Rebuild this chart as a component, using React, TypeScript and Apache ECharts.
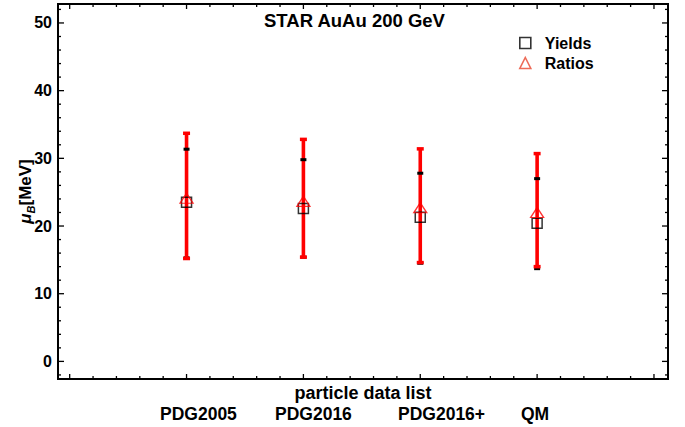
import React, { useEffect, useRef } from "react";
import * as echarts from "echarts";

// ---- data ----
const categories = ["PDG2005", "PDG2016", "PDG2016+", "QM"];
const categoryX = [1, 2, 3, 4];
const categoryLabelLeft = [160, 275, 398, 521];

const yieldsMu = [23.5, 22.6, 21.3, 20.4];
const yieldsLow = [15.3, 15.4, 14.5, 13.7];
const yieldsHigh = [31.35, 29.8, 27.8, 27.0];

const ratiosMu = [24.1, 23.65, 22.7, 22.0];
const ratiosLow = [15.2, 15.4, 14.6, 14.0];
const ratiosHigh = [33.7, 32.8, 31.4, 30.7];

const yTickLabels = [0, 10, 20, 30, 40, 50];
const yMinorTicks = [-2, 2, 4, 6, 8, 12, 14, 16, 18, 22, 24, 26, 28, 32, 34, 36, 38, 42, 44, 46, 48, 52];
const xMajorTicks = [0, 1, 2, 3, 4, 5];
const xMinorTicks = [
  0.2, 0.4, 0.6, 0.8, 1.2, 1.4, 1.6, 1.8, 2.2, 2.4, 2.6, 2.8, 3.2, 3.4, 3.6, 3.8, 4.2, 4.4, 4.6, 4.8,
];

const X_MIN = -0.1;
const X_MAX = 5.12;
const Y_MIN = -2.6;
const Y_MAX = 52.8;

const FONT = "'Liberation Sans', Arial, sans-serif";

export default function App() {
  const ref = useRef<HTMLDivElement>(null);

  useEffect(() => {
    if (!ref.current) return;
    const chart = echarts.init(ref.current, null, { renderer: "svg" });

    const ticksRender = (params: any, api: any) => {
      const cs = params.coordSys;
      const x0 = cs.x, x1 = cs.x + cs.width, y0 = cs.y, y1 = cs.y + cs.height;
      const children: any[] = [];
      const st = { stroke: "#000", lineWidth: 1.3 };
      const addY = (v: number, len: number) => {
        const py = api.coord([X_MIN, v])[1];
        children.push({ type: "line", shape: { x1: x0, y1: py, x2: x0 + len, y2: py }, style: st });
        children.push({ type: "line", shape: { x1: x1 - len, y1: py, x2: x1, y2: py }, style: st });
      };
      const addX = (v: number, len: number) => {
        const px = api.coord([v, Y_MIN])[0];
        children.push({ type: "line", shape: { x1: px, y1: y1, x2: px, y2: y1 - len }, style: st });
        children.push({ type: "line", shape: { x1: px, y1: y0, x2: px, y2: y0 + len }, style: st });
      };
      yTickLabels.forEach((v) => addY(v, 6));
      yMinorTicks.forEach((v) => addY(v, 3));
      xMajorTicks.forEach((v) => addX(v, 5));
      xMinorTicks.forEach((v) => addX(v, 3));
      return { type: "group", children };
    };

    const makeBar = (color: string, lw: number, capW: number, capLw: number, withLine: boolean, capTop: boolean, capBottom: boolean) =>
      (params: any, api: any) => {
        const x = api.value(0);
        const lo = api.coord([x, api.value(1)]);
        const hi = api.coord([x, api.value(2)]);
        const children: any[] = [];
        if (withLine) {
          children.push({ type: "line", shape: { x1: lo[0], y1: lo[1], x2: hi[0], y2: hi[1] }, style: { stroke: color, lineWidth: lw } });
        }
        if (capTop) {
          children.push({ type: "line", shape: { x1: hi[0] - capW / 2, y1: hi[1], x2: hi[0] + capW / 2, y2: hi[1] }, style: { stroke: color, lineWidth: capLw } });
        }
        if (capBottom) {
          children.push({ type: "line", shape: { x1: lo[0] - capW / 2, y1: lo[1], x2: lo[0] + capW / 2, y2: lo[1] }, style: { stroke: color, lineWidth: capLw } });
        }
        return { type: "group", children };
      };

    const yieldBarData = categoryX.map((x, i) => [x, yieldsLow[i], yieldsHigh[i]]);
    const ratioBarData = categoryX.map((x, i) => [x, ratiosLow[i], ratiosHigh[i]]);

    chart.setOption({
      animation: false,
      textStyle: { fontFamily: FONT },
      title: {
        text: "STAR AuAu 200 GeV",
        left: 259,
        top: 6,
        textStyle: { fontFamily: FONT, fontWeight: "bold", fontSize: 18.5, color: "#000" },
      },
      legend: {
        orient: "vertical",
        left: 514,
        top: 30,
        itemWidth: 11,
        itemHeight: 11,
        itemGap: 4,
        textStyle: { fontFamily: FONT, fontWeight: "bold", fontSize: 16, color: "#000", padding: [0, 0, 0, 9], lineHeight: 16 },
        data: [
          { name: "Yields", icon: "rect", itemStyle: { color: "rgba(0,0,0,0)", borderColor: "#000", borderWidth: 1.6 } },
          { name: "Ratios", icon: "triangle", itemStyle: { color: "rgba(0,0,0,0)", borderColor: "#e8462e", borderWidth: 1.6 } },
        ],
      },
      grid: {
        left: 58, right: 17, top: 4, bottom: 48,
        containLabel: false,
        outerBoundsMode: "none",
        show: true, borderColor: "#000", borderWidth: 2, backgroundColor: "transparent",
      },
      xAxis: {
        type: "value",
        min: X_MIN,
        max: X_MAX,
        axisLine: { show: false },
        axisTick: { show: false },
        axisLabel: { show: false },
        splitLine: { show: false },
        name: "particle data list",
        nameLocation: "middle",
        nameGap: 5,
        nameMoveOverlap: false,
        nameTextStyle: { fontFamily: FONT, fontWeight: "bold", fontSize: 18, color: "#000" },
      },
      yAxis: {
        type: "value",
        min: Y_MIN,
        max: Y_MAX,
        axisLine: { show: false },
        axisTick: { show: false },
        splitLine: { show: false },
        axisLabel: {
          customValues: yTickLabels,
          fontFamily: FONT,
          fontWeight: "bold",
          fontSize: 16,
          color: "#000",
          margin: 6,
        },
        name: "{mu|μ}{sub|B}{n|[MeV]}",
        nameLocation: "middle",
        nameGap: 22,
        nameMoveOverlap: false,
        nameRotate: 90,
        nameTextStyle: {
          color: "#000",
          rich: {
            mu: { fontFamily: FONT, fontWeight: "bold", fontStyle: "italic", fontSize: 17, color: "#000", lineHeight: 22, verticalAlign: "middle" },
            sub: { fontFamily: FONT, fontWeight: "bold", fontStyle: "italic", fontSize: 11, color: "#000", lineHeight: 22, verticalAlign: "bottom", padding: [8, 0, 0, 0] },
            n: { fontFamily: FONT, fontWeight: "bold", fontSize: 17, color: "#000", lineHeight: 22, verticalAlign: "middle" },
          },
        },
      },
      graphic: categories.map((c, i) => ({
        type: "text",
        left: categoryLabelLeft[i],
        top: 405,
        style: { text: c, fontFamily: FONT, fontWeight: "bold", fontSize: 17.5, fill: "#000" },
      })),
      series: [
        {
          type: "custom",
          name: "ticks",
          silent: true,
          z: 1,
          data: [[1, 10]],
          renderItem: ticksRender,
        },
        {
          type: "custom",
          name: "yieldBars",
          silent: true,
          z: 2,
          data: yieldBarData,
          encode: { x: 0, y: [1, 2] },
          renderItem: makeBar("#000", 1.5, 6, 3, true, false, true),
        },
        {
          type: "custom",
          name: "ratioBars",
          silent: true,
          z: 3,
          data: ratioBarData,
          encode: { x: 0, y: [1, 2] },
          renderItem: makeBar("#ff0000", 3.6, 7, 3.5, true, true, true),
        },
        {
          type: "custom",
          name: "yieldCaps",
          silent: true,
          z: 4,
          data: yieldBarData,
          encode: { x: 0, y: [1, 2] },
          renderItem: makeBar("#000", 1.5, 6, 3, false, true, false),
        },
        {
          type: "scatter",
          name: "Yields",
          silent: true,
          z: 5,
          symbol: "rect",
          symbolSize: 10,
          itemStyle: { color: "rgba(0,0,0,0)", borderColor: "#000", borderWidth: 1.5 },
          data: categoryX.map((x, i) => [x, yieldsMu[i]]),
        },
        {
          type: "scatter",
          name: "Ratios",
          silent: true,
          z: 6,
          symbol: "triangle",
          symbolSize: [13, 10],
          itemStyle: { color: "rgba(0,0,0,0)", borderColor: "#ff0000", borderWidth: 1.3 },
          data: categoryX.map((x, i) => [x, ratiosMu[i]]),
        },
      ],
    });

    return () => chart.dispose();
  }, []);

  return <div ref={ref} style={{ width: 685, height: 427, position: "absolute", left: 0, top: 0 }} />;
}
